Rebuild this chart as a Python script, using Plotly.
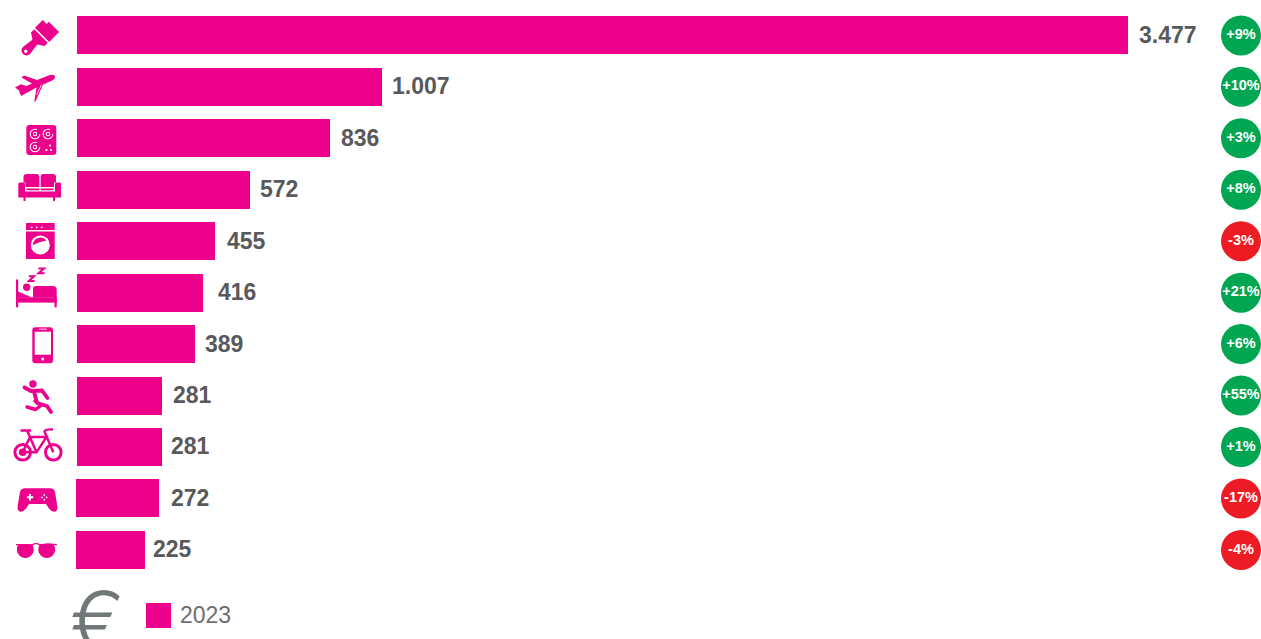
import base64
import plotly.graph_objects as go

categories = ["Fai da te", "Viaggi", "Cucina", "Arredamento", "Elettrodomestici", "Letto",
              "Telefonia", "Sport", "Biciclette", "Videogiochi", "Occhiali"]
values_2023 = [3477, 1007, 836, 572, 455, 416, 389, 281, 281, 272, 225]
value_labels = ["3.477", "1.007", "836", "572", "455", "416", "389", "281", "281", "272", "225"]
change_labels = ["+9%", "+10%", "+3%", "+8%", "-3%", "+21%", "+6%", "+55%", "+1%", "-17%", "-4%"]
series_name = "2023"

W, H = 1261, 639
PINK = "#ec008c"
GREEN = "#00a651"
RED = "#ed1c24"
DARK = "#58595b"
GREY = "#6d6e71"

PX_PER_UNIT = 1051.4 / 3477
X0 = 77
ROW0, ROWSTEP = 35.4, 51.45
x_range = [-X0 / PX_PER_UNIT, (W - X0) / PX_PER_UNIT]
y_range = [(H - ROW0) / ROWSTEP, -ROW0 / ROWSTEP]
label_shift = [9, 8.5, 9, 8.5, 10, 13, 8, 9, 7, 10, 6]
bar_base = [0] * 9 + [-3, -3]
badge_x = [(1241 - X0) / PX_PER_UNIT] * len(categories)

icons = f'''<svg xmlns="http://www.w3.org/2000/svg" width="{W}" height="{H}" viewBox="0 0 {W} {H}">
<g fill="{PINK}">
<!-- brush -->
<g transform="translate(26.5,50.5) rotate(-45)">
  <path d="M0,-5 A5,5 0 1 0 0,5 L13,3.2 L13,-3.2 Z"/>
  <circle cx="-1" cy="0" r="1.7" fill="#fff"/>
  <path d="M12,-3.6 L16,-9.6 L20.5,-9.6 L20.5,9.6 L16,9.6 L12,3.6 Z"/>
  <path d="M22,-10 L33,-10 L33,-4.5 L36,-4.5 L36,10 L22,10 Z"/>
</g>
<!-- plane -->
<path d="M50,75 Q55.5,74.3 55,77.5 Q54.5,79.5 50,81.5 L43,84.5 L35.5,101.5 L34.3,101.5 L36.5,87.5 L21,96 L19,90.5 L15,87.5 L21,84.3 L26.5,86 L32,83.5 L21.5,77.5 L24,75.5 L37,80 Z"/>
<path d="M41.5,84.5 L36.5,95" stroke="#fff" stroke-width="0.8" fill="none"/>
<!-- hob -->
<rect x="26.3" y="125" width="30" height="30" rx="3"/>
<g fill="none" stroke="#fff" stroke-width="1.05">
  <circle cx="35" cy="134" r="4.8" stroke-dasharray="24 6"/><circle cx="35" cy="134" r="1.7"/>
  <circle cx="48" cy="134" r="4.8" stroke-dasharray="24 6"/><circle cx="48" cy="134" r="1.7"/>
  <circle cx="35" cy="147" r="4.8" stroke-dasharray="24 6"/><circle cx="35" cy="147" r="1.7"/>
</g>
<g fill="#fff"><circle cx="50" cy="145.5" r="1.1"/><circle cx="46.5" cy="150" r="1.1"/><circle cx="51" cy="150" r="1.1"/></g>
<!-- sofa -->
<path d="M23.5,177 Q23.5,174 26.5,174 L36.5,174 Q39.3,174 39.3,177 L39.3,187 L25.5,187 L25.5,182.5 L23.5,182.5 Z"/>
<path d="M40.7,177 Q40.7,174 43.5,174 L53,174 Q56,174 56,177 L56,182.5 L54,182.5 L54,187 L40.7,187 Z"/>
<path d="M18.3,184 Q18.3,182.5 20,182.5 L23.5,182.5 Q25,182.5 25,184 L25,191.5 L55,191.5 L55,184 Q55,182.5 56.5,182.5 L59.5,182.5 Q61,182.5 61,184 L61,197.5 L18.3,197.5 Z"/>
<rect x="23.5" y="197" width="2" height="4"/><rect x="53" y="197" width="2" height="4"/>
<rect x="26.5" y="188.5" width="12.8" height="1.8"/><rect x="40.7" y="188.5" width="12.8" height="1.8"/>
<!-- washer -->
<rect x="26" y="223" width="28.7" height="7"/>
<g fill="#fff"><circle cx="31.7" cy="227.3" r="0.9"/><circle cx="36.7" cy="227.3" r="0.9"/><circle cx="41.7" cy="227.3" r="0.9"/></g>
<rect x="26" y="231.5" width="28.7" height="27.5"/>
<circle cx="40.3" cy="245" r="9.5" fill="#fff"/>
<path d="M33,245 A7.5,7.5 0 0 1 46.5,240.5 Q39,241.5 33,245 Z"/>
<!-- bed -->
<rect x="16" y="279.5" width="2.2" height="27.8"/>
<rect x="54.5" y="297" width="2.2" height="10.3"/>
<rect x="16" y="297.3" width="40.7" height="5.3"/>
<path d="M33,297.5 L33,289 Q33,286 36,286 L53,286 Q56.7,286 56.7,290 L56.7,297.5 Z"/>
<circle cx="26.7" cy="287.3" r="3.7"/>
<path d="M18,291.5 L32,297.5 L18,297.5 Z"/>
<g fill="none" stroke="{PINK}" stroke-width="2.1">
  <path d="M28.8,276.3 L34,276.3 L29,281 L34.6,281"/>
  <path d="M38.4,268.5 L44,268.5 L38.6,273.2 L44.6,273.2"/>
</g>
<!-- phone -->
<rect x="32.3" y="327.3" width="20.7" height="36" rx="3"/>
<rect x="34.7" y="331.7" width="16.3" height="23" fill="#fff"/>
<rect x="39" y="328.6" width="7.7" height="1.1" fill="#fff" opacity="0.8"/>
<circle cx="42.7" cy="359" r="1.5" fill="#fff"/>
<!-- runner -->
<circle cx="33" cy="384" r="3.7"/>
<g fill="none" stroke="{PINK}" stroke-width="3.8" stroke-linejoin="round" stroke-linecap="round">
  <path d="M34,391.5 L37,403 L47,406 L51,412"/>
  <path d="M24.5,387.5 L31,391 L42,390.5 L47.5,398"/>
  <path d="M35,401 L41,405.5 L35.5,409.5 L27,407" stroke-width="3.4"/>
</g>
<!-- bike -->
<g fill="none" stroke="{PINK}">
  <circle cx="22.7" cy="452.3" r="7.8" stroke-width="3"/>
  <circle cx="53.3" cy="452.3" r="7.8" stroke-width="3"/>
  <path stroke-width="2.4" d="M22.7,452.3 L30,437 L46.5,437 L36.5,452.3 Z M36.5,452.3 L27.5,431.5 M20.5,430.5 L31,430.5 M53.3,452.3 L44.5,431.5 Q45,429 53,429.5"/>
</g>
<circle cx="22.7" cy="452.3" r="3.8"/>
<!-- gamepad -->
<path d="M25,488.3 L50,488.3 Q54,488.3 55,492 L57.3,506 Q58,511.7 54,511.7 Q51,511.7 48,507 L46,504 L29,504 L27,507 Q24,511.7 21,511.7 Q17,511.7 17.7,506 L20,492 Q21,488.3 25,488.3 Z"/>
<path d="M30,494 V500.5 M26.8,497.3 H33.2" stroke="#fff" stroke-width="2"/>
<g fill="#fff"><circle cx="44.3" cy="495" r="0.9"/><circle cx="44.3" cy="499.6" r="0.9"/><circle cx="42" cy="497.3" r="0.9"/><circle cx="46.6" cy="497.3" r="0.9"/></g>
<!-- glasses -->
<path d="M18.4,544.5 L32.2,544.5 A8.5,8.5 0 1 1 18.4,544.5 Z"/>
<path d="M39.8,544.5 L53.6,544.5 A8.5,8.5 0 1 1 39.8,544.5 Z"/>
<path d="M16,544.6 L24,544.6 Q30,544.6 32,545 Q36,542.3 40,545 L48,544 L57,544.6" fill="none" stroke="{PINK}" stroke-width="1.4"/>
</g></svg>'''
icon_uri = "data:image/svg+xml;base64," + base64.b64encode(icons.encode()).decode()

fig = go.Figure()
fig.add_trace(go.Bar(
    y=categories,
    x=[v - b for v, b in zip(values_2023, bar_base)],
    base=bar_base,
    orientation="h",
    width=38 / ROWSTEP,
    marker=dict(color=PINK, line_width=0),
    name=series_name,
    showlegend=False,
))
fig.add_trace(go.Scatter(
    y=categories,
    x=badge_x,
    mode="markers+text",
    text=change_labels,
    textposition="middle center",
    textfont=dict(family="Liberation Sans", size=14.5, color="white", weight="bold"),
    marker=dict(size=40, line_width=0,
                color=[RED if c.startswith("-") else GREEN for c in change_labels]),
    showlegend=False,
    cliponaxis=False,
))

for cat, v, lab, s in zip(categories, values_2023, value_labels, label_shift):
    fig.add_annotation(x=v, y=cat, text=lab, showarrow=False, xanchor="left", yanchor="middle", xshift=s, yshift=0.6,
                       font=dict(family="Liberation Sans", size=23, color=DARK, weight="bold"))

fig.add_shape(type="rect", xref="paper", yref="paper", x0=146 / W, x1=171 / W,
              y0=1 - 628 / H, y1=1 - 603 / H, fillcolor=PINK, line_width=0)
fig.add_annotation(xref="paper", yref="paper", x=178 / W, y=1 - 615 / H, text=series_name, showarrow=False,
                   xanchor="left", yanchor="middle", font=dict(family="Liberation Sans", size=23, color=GREY))
fig.add_annotation(xref="paper", yref="paper", x=97.5 / W, y=1 - 621 / H, text="€", showarrow=False,
                   xanchor="center", yanchor="middle", font=dict(family="Inter", size=82, color="#727779", weight=300))

fig.add_layout_image(dict(source=icon_uri, xref="paper", yref="paper", x=0, y=1, sizex=1, sizey=1,
                          xanchor="left", yanchor="top", sizing="stretch", layer="above"))

fig.update_layout(
    width=W, height=H, margin=dict(l=0, r=0, t=0, b=0, autoexpand=False),
    paper_bgcolor="white", plot_bgcolor="white", bargap=0,
    xaxis=dict(visible=False, range=x_range, fixedrange=True),
    yaxis=dict(visible=False, range=y_range, type="category", categoryorder="array",
               categoryarray=categories, fixedrange=True),
)
fig.write_html("out.html", config=dict(displayModeBar=False),
               post_script="document.body.style.margin='0';document.documentElement.style.overflow='hidden';")
